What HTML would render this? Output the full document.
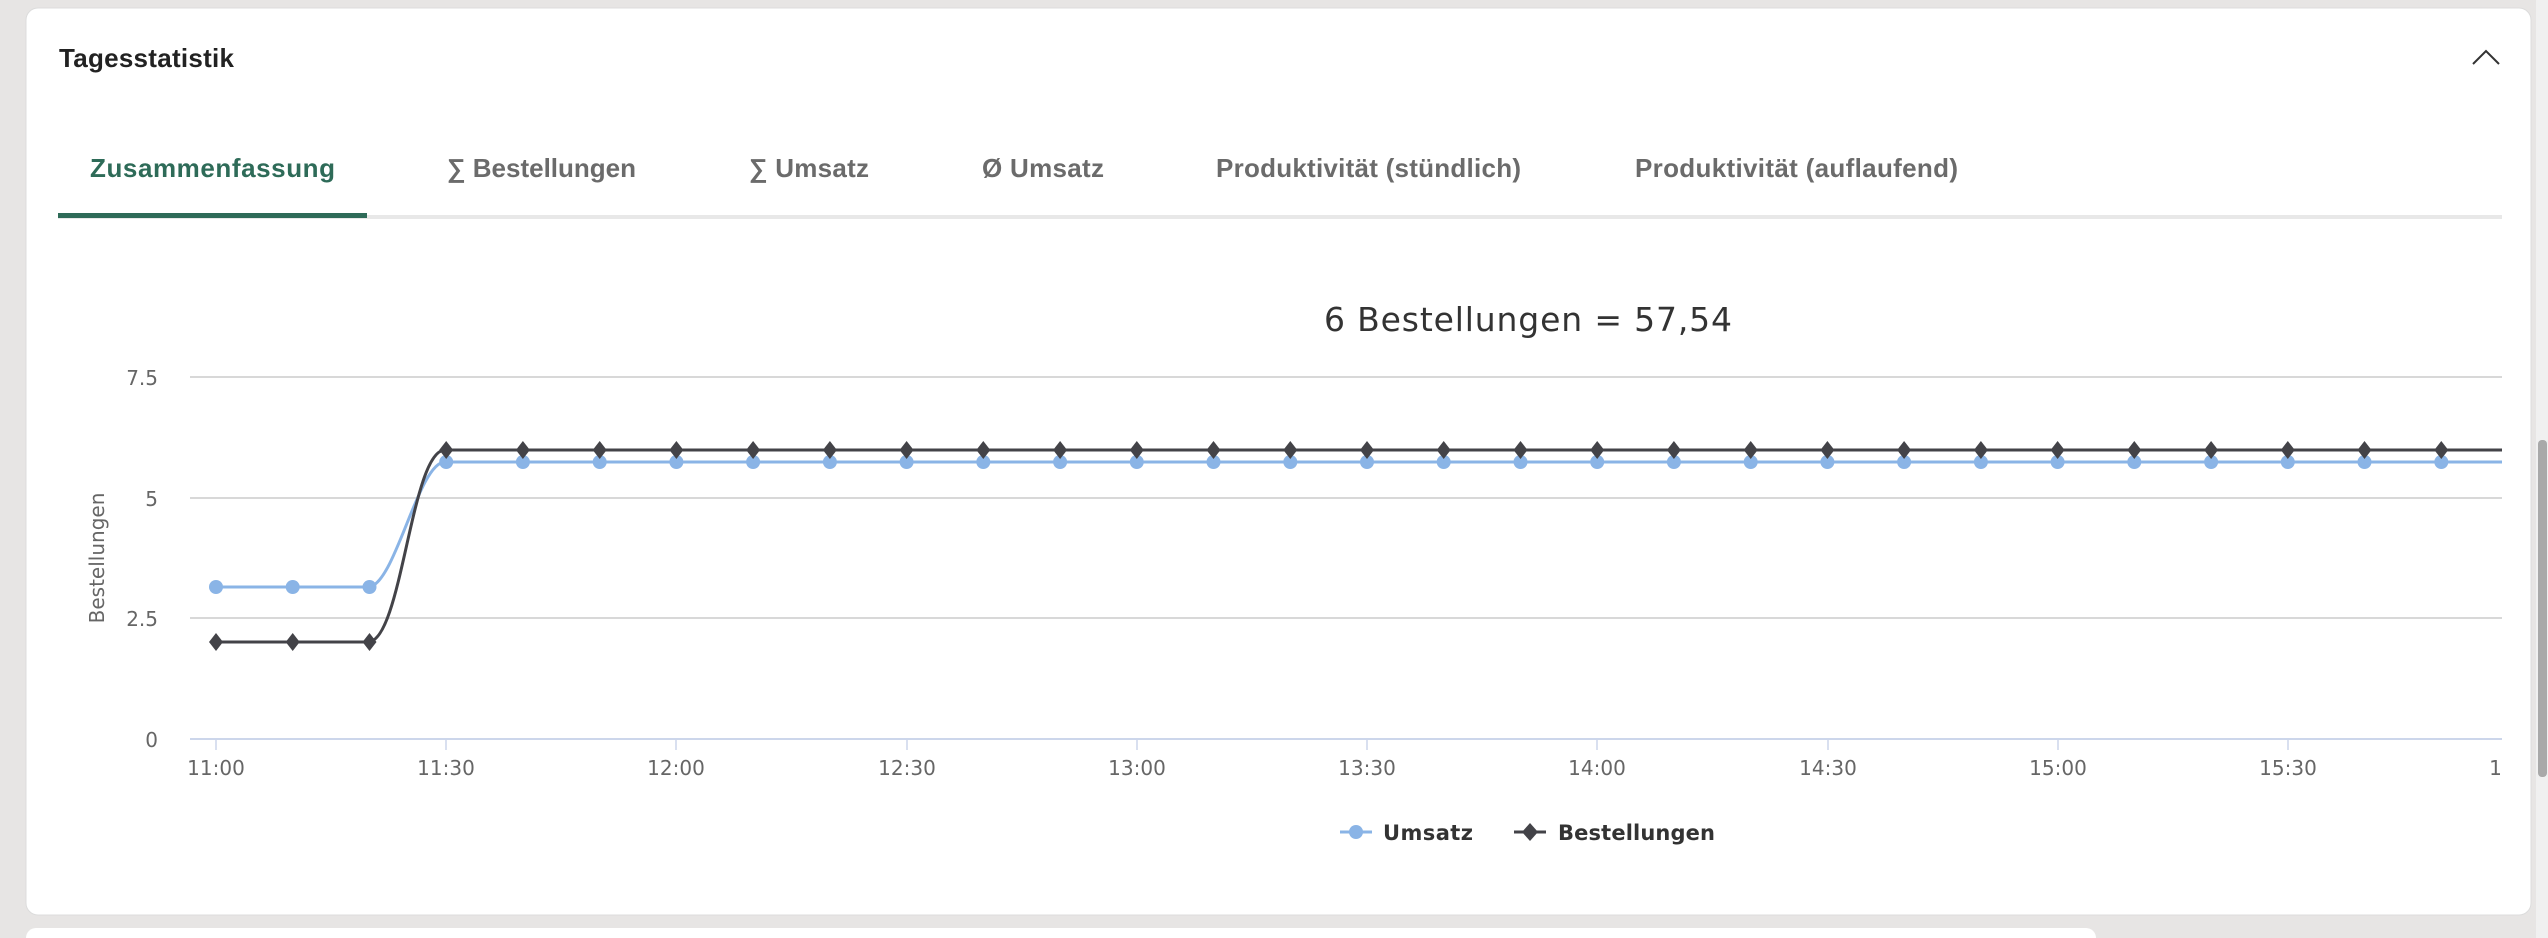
<!DOCTYPE html>
<html><head><meta charset="utf-8"><style>
html,body{margin:0;padding:0;background:#e7e5e4;width:2548px;height:938px;overflow:hidden;font-family:"Liberation Sans",sans-serif}
</style></head><body>
<svg width="2548" height="938" viewBox="0 0 2548 938" xmlns="http://www.w3.org/2000/svg" style="position:absolute;left:0;top:0">
<rect x="0" y="0" width="2548" height="938" fill="#e7e5e4"/>
<rect x="26" y="8" width="2505" height="907" rx="12" fill="#fff" stroke="#dcdcdc" stroke-width="1"/>
<rect x="26" y="928" width="2070" height="20" rx="10" fill="#fff"/>
<rect x="2536" y="0" width="12" height="938" fill="#f0f0f0"/>
<rect x="2538" y="440" width="9" height="337" rx="4" fill="#a9a9a9"/>
<text x="59" y="67" font-family="Liberation Sans,sans-serif" font-weight="bold" font-size="26" fill="#222" textLength="175">Tagesstatistik</text>
<polyline points="2473,64 2486,51 2499,64" fill="none" stroke="#333" stroke-width="2"/>
<g font-family="Liberation Sans,sans-serif" font-weight="bold" font-size="26" fill="#6b6b6b">
<text x="90" y="177" fill="#2e6b58" textLength="245">Zusammenfassung</text>
<text x="447" y="177" textLength="189">∑ Bestellungen</text>
<text x="749" y="177" textLength="120">∑ Umsatz</text>
<text x="982" y="177" textLength="122">Ø Umsatz</text>
<text x="1216" y="177" textLength="305">Produktivität (stündlich)</text>
<text x="1635" y="177" textLength="323">Produktivität (auflaufend)</text>
</g>
<rect x="58" y="215" width="2444" height="4" fill="#e8e8e8"/>
<rect x="58" y="213" width="309" height="5" fill="#2e6b58"/>
<text x="1528" y="331" text-anchor="middle" font-family="DejaVu Sans,sans-serif" font-size="33" fill="#333" textLength="408">6 Bestellungen = 57,54</text>
<g stroke="#d8d8d8" stroke-width="2">
<line x1="190" y1="377" x2="2502" y2="377"/>
<line x1="190" y1="498" x2="2502" y2="498"/>
<line x1="190" y1="618" x2="2502" y2="618"/>
</g>
<line x1="190" y1="739" x2="2502" y2="739" stroke="#ccd6eb" stroke-width="2"/>
<g stroke="#ccd6eb" stroke-width="1.5">
<line x1="216" y1="739" x2="216" y2="750"/><line x1="446" y1="739" x2="446" y2="750"/><line x1="676" y1="739" x2="676" y2="750"/><line x1="907" y1="739" x2="907" y2="750"/><line x1="1137" y1="739" x2="1137" y2="750"/><line x1="1367" y1="739" x2="1367" y2="750"/><line x1="1597" y1="739" x2="1597" y2="750"/><line x1="1828" y1="739" x2="1828" y2="750"/><line x1="2058" y1="739" x2="2058" y2="750"/><line x1="2288" y1="739" x2="2288" y2="750"/>
</g>
<g font-family="DejaVu Sans,sans-serif" font-size="20" fill="#666" text-anchor="end">
<text x="158" y="385">7.5</text><text x="158" y="506">5</text><text x="158" y="626">2.5</text><text x="158" y="747">0</text>
</g>
<text transform="translate(104,558) rotate(-90)" text-anchor="middle" font-family="DejaVu Sans,sans-serif" font-size="20" fill="#666">Bestellungen</text>
<svg x="0" y="0" width="2503" height="938" overflow="hidden">
<g font-family="DejaVu Sans,sans-serif" font-size="20" fill="#666" text-anchor="middle">
<text x="216" y="775">11:00</text><text x="446" y="775">11:30</text><text x="676" y="775">12:00</text><text x="907" y="775">12:30</text><text x="1137" y="775">13:00</text><text x="1367" y="775">13:30</text><text x="1597" y="775">14:00</text><text x="1828" y="775">14:30</text><text x="2058" y="775">15:00</text><text x="2288" y="775">15:30</text><text x="2518" y="775">16:00</text>
</g>
</svg>
<path d="M216,587 L368,587 C395,587 418,462 445,462 L2502,462" fill="none" stroke="#8ab4e6" stroke-width="3"/>
<path d="M216,642 L368,642 C402,642 411,450 445,450 L2502,450" fill="none" stroke="#434348" stroke-width="3"/>
<g fill="#8ab4e6">
<circle cx="216" cy="587" r="7"/><circle cx="292.7" cy="587" r="7"/><circle cx="369.5" cy="587" r="7"/>
</g>
<g fill="#434348">
<path d="M216,633 l7,9 l-7,9 l-7,-9z"/><path d="M292.7,633 l7,9 l-7,9 l-7,-9z"/><path d="M369.5,633 l7,9 l-7,9 l-7,-9z"/>
</g>
<g fill="#8ab4e6">
<circle cx="446.2" cy="462" r="7"/><circle cx="522.9" cy="462" r="7"/><circle cx="599.7" cy="462" r="7"/><circle cx="676.4" cy="462" r="7"/><circle cx="753.1" cy="462" r="7"/><circle cx="829.9" cy="462" r="7"/><circle cx="906.6" cy="462" r="7"/><circle cx="983.3" cy="462" r="7"/><circle cx="1060.1" cy="462" r="7"/><circle cx="1136.8" cy="462" r="7"/><circle cx="1213.5" cy="462" r="7"/><circle cx="1290.3" cy="462" r="7"/><circle cx="1367" cy="462" r="7"/><circle cx="1443.7" cy="462" r="7"/><circle cx="1520.5" cy="462" r="7"/><circle cx="1597.2" cy="462" r="7"/><circle cx="1673.9" cy="462" r="7"/><circle cx="1750.7" cy="462" r="7"/><circle cx="1827.4" cy="462" r="7"/><circle cx="1904.1" cy="462" r="7"/><circle cx="1980.9" cy="462" r="7"/><circle cx="2057.6" cy="462" r="7"/><circle cx="2134.3" cy="462" r="7"/><circle cx="2211.1" cy="462" r="7"/><circle cx="2287.8" cy="462" r="7"/><circle cx="2364.5" cy="462" r="7"/><circle cx="2441.3" cy="462" r="7"/>
</g>
<g fill="#434348">
<path d="M446.2,441 l7,9 l-7,9 l-7,-9z"/><path d="M522.9,441 l7,9 l-7,9 l-7,-9z"/><path d="M599.7,441 l7,9 l-7,9 l-7,-9z"/><path d="M676.4,441 l7,9 l-7,9 l-7,-9z"/><path d="M753.1,441 l7,9 l-7,9 l-7,-9z"/><path d="M829.9,441 l7,9 l-7,9 l-7,-9z"/><path d="M906.6,441 l7,9 l-7,9 l-7,-9z"/><path d="M983.3,441 l7,9 l-7,9 l-7,-9z"/><path d="M1060.1,441 l7,9 l-7,9 l-7,-9z"/><path d="M1136.8,441 l7,9 l-7,9 l-7,-9z"/><path d="M1213.5,441 l7,9 l-7,9 l-7,-9z"/><path d="M1290.3,441 l7,9 l-7,9 l-7,-9z"/><path d="M1367,441 l7,9 l-7,9 l-7,-9z"/><path d="M1443.7,441 l7,9 l-7,9 l-7,-9z"/><path d="M1520.5,441 l7,9 l-7,9 l-7,-9z"/><path d="M1597.2,441 l7,9 l-7,9 l-7,-9z"/><path d="M1673.9,441 l7,9 l-7,9 l-7,-9z"/><path d="M1750.7,441 l7,9 l-7,9 l-7,-9z"/><path d="M1827.4,441 l7,9 l-7,9 l-7,-9z"/><path d="M1904.1,441 l7,9 l-7,9 l-7,-9z"/><path d="M1980.9,441 l7,9 l-7,9 l-7,-9z"/><path d="M2057.6,441 l7,9 l-7,9 l-7,-9z"/><path d="M2134.3,441 l7,9 l-7,9 l-7,-9z"/><path d="M2211.1,441 l7,9 l-7,9 l-7,-9z"/><path d="M2287.8,441 l7,9 l-7,9 l-7,-9z"/><path d="M2364.5,441 l7,9 l-7,9 l-7,-9z"/><path d="M2441.3,441 l7,9 l-7,9 l-7,-9z"/>
</g>
<line x1="1340" y1="832" x2="1372" y2="832" stroke="#8ab4e6" stroke-width="3"/>
<circle cx="1356" cy="832" r="7" fill="#8ab4e6"/>
<text x="1383" y="840" font-family="DejaVu Sans,sans-serif" font-weight="bold" font-size="21" fill="#333" textLength="90">Umsatz</text>
<line x1="1514" y1="832" x2="1546" y2="832" stroke="#434348" stroke-width="3"/>
<path d="M1530,823 l8,9 l-8,9 l-8,-9z" fill="#434348"/>
<text x="1558" y="840" font-family="DejaVu Sans,sans-serif" font-weight="bold" font-size="21" fill="#333" textLength="157">Bestellungen</text>
</svg>
</body></html>
